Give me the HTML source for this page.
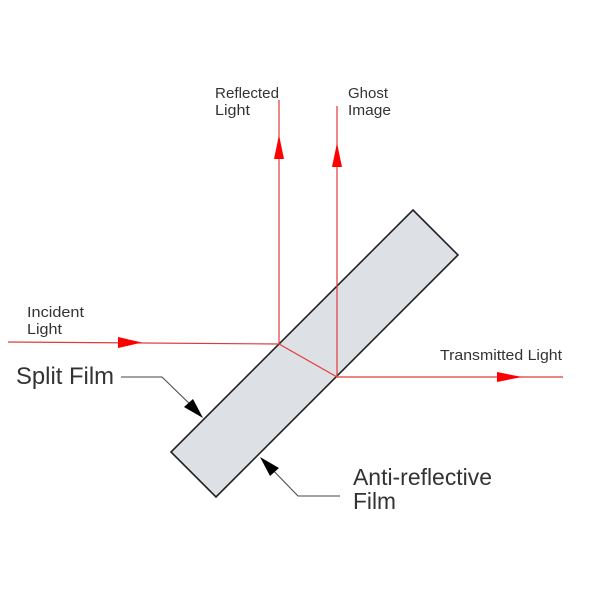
<!DOCTYPE html>
<html><head><style>
html,body{margin:0;padding:0;background:#fff;}
svg{display:block;}
text{font-family:"Liberation Sans",sans-serif;fill:#333;}
</style></head><body>
<svg width="600" height="600" viewBox="0 0 600 600" xmlns="http://www.w3.org/2000/svg">
<rect width="600" height="600" fill="#fff"/>
<polygon points="413,210 458,255 216,497 171,452" fill="#dde1e6" stroke="#222" stroke-width="1.6"/>
<g stroke="#e23a3a" stroke-width="1.2" fill="none">
<line x1="8" y1="342" x2="279" y2="344"/>
<line x1="279" y1="344" x2="279" y2="100"/>
<line x1="279" y1="344" x2="337" y2="377"/>
<line x1="337" y1="377" x2="337" y2="106"/>
<line x1="337" y1="377" x2="563" y2="377"/>
</g>
<g fill="#f00">
<polygon points="118,337 118,348 142,342.5"/>
<polygon points="274,159 284,159 279,135"/>
<polygon points="332,167 342,167 337,143"/>
<polygon points="497,372 497,382 522,377"/>
</g>
<g stroke="#444" stroke-width="1" fill="none">
<polyline points="121,377 162,377 197,411"/>
<polyline points="266,463 298,496 340,496"/>
</g>
<polygon points="203,418 184,407 193,399" fill="#000"/>
<polygon points="260,457 279,468 270,476" fill="#000"/>
<text x="27" y="317" font-size="15" textLength="57" lengthAdjust="spacingAndGlyphs">Incident</text>
<text x="27" y="334" font-size="15" textLength="35" lengthAdjust="spacingAndGlyphs">Light</text>
<text x="215" y="98" font-size="15" textLength="64" lengthAdjust="spacingAndGlyphs">Reflected</text>
<text x="215" y="115" font-size="15" textLength="35" lengthAdjust="spacingAndGlyphs">Light</text>
<text x="348" y="98" font-size="15" textLength="40" lengthAdjust="spacingAndGlyphs">Ghost</text>
<text x="348" y="115" font-size="15" textLength="43" lengthAdjust="spacingAndGlyphs">Image</text>
<text x="440" y="360" font-size="15" textLength="122" lengthAdjust="spacingAndGlyphs">Transmitted Light</text>
<text x="16" y="384" font-size="24" textLength="98" lengthAdjust="spacingAndGlyphs">Split Film</text>
<text x="353" y="485" font-size="23" textLength="139" lengthAdjust="spacingAndGlyphs">Anti-reflective</text>
<text x="353" y="509" font-size="23" textLength="43" lengthAdjust="spacingAndGlyphs">Film</text>
</svg>
</body></html>
